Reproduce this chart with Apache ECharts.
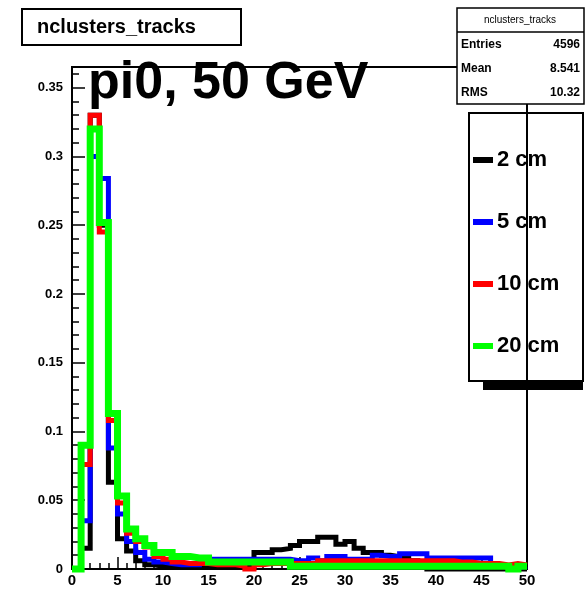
<!DOCTYPE html>
<html>
<head>
<meta charset="utf-8">
<script src="https://cdn.jsdelivr.net/npm/echarts@6/dist/echarts.min.js"></script>
<style>
  html, body { margin: 0; padding: 0; background: #ffffff; }
  #chart { width: 588px; height: 593px; }
</style>
</head>
<body>
<div id="chart"></div>
<script>
// nclusters_tracks for pi0 at 50 GeV, one normalised histogram per cut radius.
// Bins are one cluster wide, starting at 0 and ending at 50.
const binWidth = 1;
const binLow = [
  0, 1, 2, 3, 4, 5, 6, 7, 8, 9,
  10, 11, 12, 13, 14, 15, 16, 17, 18, 19,
  20, 21, 22, 23, 24, 25, 26, 27, 28, 29,
  30, 31, 32, 33, 34, 35, 36, 37, 38, 39,
  40, 41, 42, 43, 44, 45, 46, 47, 48, 49
];

const seriesNames = ['2 cm', '5 cm', '10 cm', '20 cm'];
const seriesColors = ['#000000', '#0000ff', '#ff0000', '#00ff00'];

const h2cm = [
  0, 0.015, 0.33, 0.25, 0.063, 0.022, 0.013, 0.006, 0.003, 0.002,
  0.001, 0.001, 0.001, 0.001, 0.001, 0.001, 0.001, 0.001, 0.001, 0.001,
  0.012, 0.012, 0.014, 0.015, 0.017, 0.02, 0.02, 0.023, 0.023, 0.018,
  0.02, 0.015, 0.012, 0.012, 0.01, 0.009, 0.008, 0.006, 0.003, 0,
  0, 0, 0, 0, 0, 0, 0, 0, 0, 0
];
const h5cm = [
  0, 0.035, 0.30, 0.284, 0.088, 0.04, 0.02, 0.012, 0.007, 0.005,
  0.004, 0.003, 0.003, 0.003, 0.007, 0.007, 0.007, 0.007, 0.007, 0.007,
  0.007, 0.007, 0.007, 0.007, 0.006, 0.006, 0.008, 0.006, 0.009, 0.009,
  0.007, 0.007, 0.007, 0.01, 0.009, 0.009, 0.011, 0.011, 0.011, 0.008,
  0.008, 0.008, 0.008, 0.008, 0.008, 0.008, 0.002, 0.002, 0.001, 0.002
];
const h10cm = [
  0, 0.076, 0.33, 0.245, 0.108, 0.048, 0.026, 0.02, 0.016, 0.009,
  0.007, 0.005, 0.004, 0.004, 0.004, 0.003, 0.003, 0.003, 0.002, 0,
  0.003, 0.004, 0.004, 0.004, 0.004, 0.004, 0.004, 0.006, 0.006, 0.006,
  0.006, 0.006, 0.006, 0.006, 0.006, 0.006, 0.006, 0.006, 0.006, 0.006,
  0.006, 0.006, 0.005, 0.005, 0.004, 0.004, 0.004, 0.003, 0.004, 0.003
];
const h20cm = [
  0, 0.09, 0.32, 0.252, 0.113, 0.053, 0.029, 0.022, 0.017, 0.012,
  0.012, 0.009, 0.009, 0.008, 0.008, 0.005, 0.005, 0.005, 0.005, 0.005,
  0.005, 0.005, 0.005, 0.005, 0.002, 0.002, 0.002, 0.002, 0.002, 0.002,
  0.002, 0.002, 0.002, 0.002, 0.002, 0.002, 0.002, 0.002, 0.002, 0.002,
  0.002, 0.002, 0.002, 0.002, 0.002, 0.002, 0.002, 0.002, 0, 0.002
];
const histograms = [h2cm, h5cm, h10cm, h20cm];
const lineWidths = [5, 5, 5, 7];

const statsTitle = 'nclusters_tracks';
const statsRows = [['Entries', '4596'], ['Mean', '8.541'], ['RMS', '10.32']];
const plotTitle = 'nclusters_tracks';
const plotLabel = 'pi0, 50 GeV';

// Turn bin contents into the outline ROOT draws for a histogram.
function histOutline(values) {
  const pts = [];
  values.forEach((v, i) => {
    pts.push([binLow[i], v]);
    pts.push([binLow[i] + binWidth, v]);
  });
  return pts;
}

const FONT = '"Liberation Sans", Arial, Helvetica, sans-serif';
const chart = echarts.init(document.getElementById('chart'), null, { renderer: 'canvas' });

const series = histograms.map((vals, k) => ({
  name: seriesNames[k],
  type: 'line',
  data: histOutline(vals),
  symbol: 'none',
  clip: false,
  color: seriesColors[k],
  lineStyle: { color: seriesColors[k], width: lineWidths[k], join: 'miter', cap: 'butt' },
  itemStyle: { color: seriesColors[k] },
  z: 2 + k,
  animation: false
}));

const statsGraphic = [
  { type: 'rect', shape: { x: 457, y: 8, width: 127, height: 96 },
    style: { fill: '#ffffff', stroke: '#000000', lineWidth: 1.5 }, z: 100 },
  { type: 'line', shape: { x1: 457, y1: 32, x2: 584, y2: 32 },
    style: { stroke: '#000000', lineWidth: 1.5 }, z: 101 },
  { type: 'text', x: 520, y: 20, z: 101,
    style: { text: statsTitle, font: '10px ' + FONT, fill: '#000', align: 'center', verticalAlign: 'middle' } }
];
statsRows.forEach((row, i) => {
  const y = 45 + i * 24;
  statsGraphic.push({ type: 'text', x: 461, y: y, z: 101,
    style: { text: row[0], font: 'bold 12px ' + FONT, fill: '#000', align: 'left', verticalAlign: 'middle' } });
  statsGraphic.push({ type: 'text', x: 580, y: y, z: 101,
    style: { text: row[1], font: 'bold 12px ' + FONT, fill: '#000', align: 'right', verticalAlign: 'middle' } });
});

const option = {
  backgroundColor: '#ffffff',
  animation: false,
  grid: {
    left: 72, right: 61, top: 67, bottom: 24,
    show: true, borderColor: '#000000', borderWidth: 2, backgroundColor: 'transparent'
  },
  xAxis: {
    type: 'value', min: 0, max: 50, interval: 5,
    axisLine: { show: true, lineStyle: { color: '#000', width: 2 } },
    axisTick: { show: true, inside: true, length: 12, lineStyle: { color: '#000', width: 1.5 } },
    minorTick: { show: true, splitNumber: 5, length: 6, lineStyle: { color: '#000', width: 1.5 } },
    splitLine: { show: false },
    axisLabel: { color: '#000', fontFamily: FONT, fontWeight: 'bold', fontSize: 15, margin: 4 }
  },
  yAxis: {
    type: 'value', min: 0, max: 0.365, interval: 0.05,
    axisLine: { show: true, lineStyle: { color: '#000', width: 2 } },
    axisTick: { show: true, inside: true, length: 13, lineStyle: { color: '#000', width: 1.5 } },
    minorTick: { show: true, splitNumber: 5, length: 7, lineStyle: { color: '#000', width: 1.5 } },
    splitLine: { show: false },
    axisLabel: {
      color: '#000', fontFamily: FONT, fontWeight: 'bold', fontSize: 13, margin: 9,
      showMaxLabel: false,
      formatter: v => (v === 0 ? '0' : String(+v.toFixed(2)))
    }
  },
  legend: {
    data: seriesNames,
    orient: 'vertical',
    left: 473, top: 149,
    padding: 0,
    itemWidth: 20, itemHeight: 6, itemGap: 40,
    icon: 'rect',
    textStyle: { color: '#000', fontFamily: FONT, fontWeight: 'bold', fontSize: 22, lineHeight: 22, padding: [0, 0, 0, -1] },
    z: 50
  },
  graphic: [
    // title box
    { type: 'rect', shape: { x: 22, y: 9, width: 219, height: 36 },
      style: { fill: '#ffffff', stroke: '#000000', lineWidth: 2 }, z: 100 },
    { type: 'text', x: 37, y: 27, z: 101,
      style: { text: plotTitle, font: 'bold 20px ' + FONT, fill: '#000', align: 'left', verticalAlign: 'middle' } },
    // big label over the frame
    { type: 'text', x: 88, y: 84, z: 60,
      style: { text: plotLabel, font: 'bold 52px ' + FONT, fill: '#000', align: 'left', verticalAlign: 'middle' } },
    // legend frame and its shadow
    { type: 'rect', shape: { x: 483, y: 381, width: 100, height: 9 },
      style: { fill: '#000000' }, z: 40 },
    { type: 'rect', shape: { x: 469, y: 113, width: 114, height: 268 },
      style: { fill: 'none', stroke: '#000000', lineWidth: 2 }, z: 41 },
    ...statsGraphic
  ],
  series: series
};

chart.setOption(option);
</script>
</body>
</html>
